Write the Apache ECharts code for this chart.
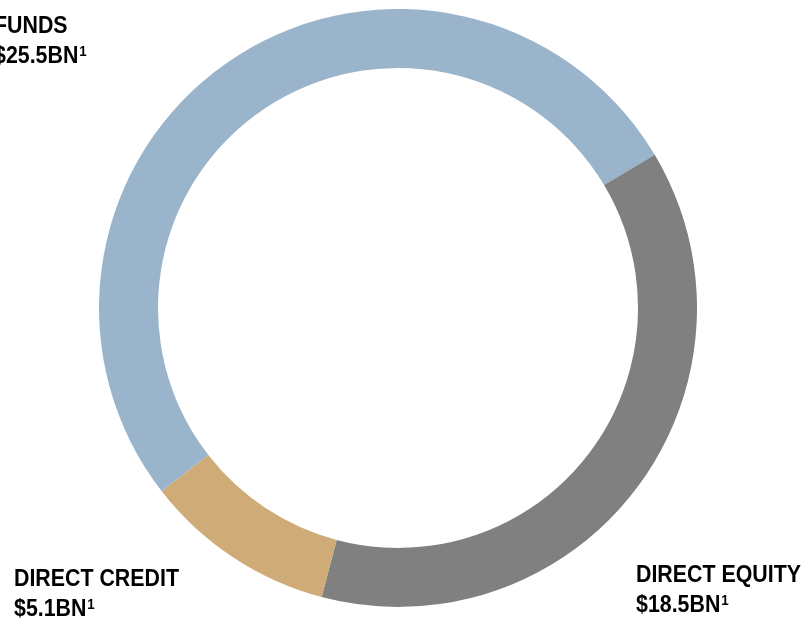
<!DOCTYPE html>
<html>
<head>
<meta charset="utf-8">
<script src="https://cdn.jsdelivr.net/npm/echarts@6/dist/echarts.min.js"></script>
<style>
  html, body { margin: 0; padding: 0; background: #fff; }
  #chart { width: 805px; height: 622px; }
</style>
</head>
<body>
<div id="chart"></div>
<script>
// segments, clockwise from the funds slice
var names = ['FUNDS', 'DIRECT EQUITY', 'DIRECT CREDIT']
var values = [25.5, 18.5, 5.1]
var valueLabels = ['$25.5BN', '$18.5BN', '$5.1BN']
var footnote = '1'
var colors = ['#9ab4cb', '#808080', '#cfab78']

// where each label block sits (left, top)
var labelPos = [[-6, 11], [636, 560], [14, 564]]

var chart = echarts.init(document.getElementById('chart'))

var seriesData = names.map(function (n, i) {
    return { name: n, value: values[i], itemStyle: { color: colors[i] } }
})

var fontFam = '"Liberation Sans", Arial, sans-serif'

// no narrow font installed, so squeeze the bold sans a bit
var labels = names.map(function (n, i) {
    return {
        type: 'text',
        x: labelPos[i][0],
        y: labelPos[i][1],
        scaleX: 0.89,
        silent: true,
        style: {
            text: '{m|' + n + '}\n{m|' + valueLabels[i] + '}{s|' + footnote + '}',
            fill: '#000',
            align: 'left',
            verticalAlign: 'top',
            rich: {
                m: { fontFamily: fontFam, fontWeight: 'bold', fontSize: 24, lineHeight: 30 },
                s: { fontFamily: fontFam, fontWeight: 'bold', fontSize: 15, lineHeight: 15,
                     verticalAlign: 'top', padding: [3, 0, 0, 1] }
            }
        }
    }
})

chart.setOption({
    animation: false,
    series: [{
        type: 'pie',
        center: [398, 308],
        radius: [240, 299],
        startAngle: 217.8,
        clockwise: true,
        silent: true,
        itemStyle: { borderWidth: 0 },
        label: { show: false },
        labelLine: { show: false },
        data: seriesData
    }],
    graphic: labels
})
</script>
</body>
</html>
